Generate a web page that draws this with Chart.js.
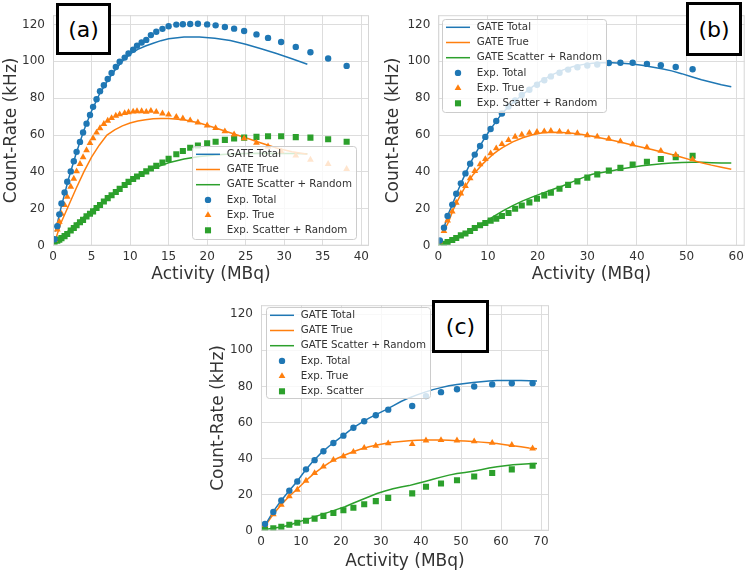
<!DOCTYPE html>
<html>
<head>
<meta charset="utf-8">
<script src="https://cdn.jsdelivr.net/npm/chart.js@4.4.0/dist/chart.umd.min.js"></script>
<style>
  body { margin: 0; background: #fff; width: 749px; height: 572px; position: relative; overflow: hidden; }
  canvas { position: absolute; }
  .tag {
    position: absolute; background: #fff; border: 3px solid #000; box-sizing: border-box;
    font: 22px "DejaVu Sans", sans-serif; color: #000;
    display: flex; align-items: center; justify-content: center;
  }
</style>
</head>
<body>
<canvas id="chartA" width="375" height="290" style="left:0;top:0"></canvas>
<canvas id="chartB" width="374" height="290" style="left:375px;top:0"></canvas>
<canvas id="chartC" width="360" height="282" style="left:200px;top:290px"></canvas>
<div class="tag" style="left:56px;top:3px;width:55px;height:52px">(a)</div>
<div class="tag" style="left:686px;top:2px;width:56px;height:54px">(b)</div>
<div class="tag" style="left:432px;top:300px;width:57px;height:53px">(c)</div>
<script>
// shared y ticks
const yTicks = [0, 20, 40, 60, 80, 100, 120];

// ---- panel (a) ----
const aXTicks = [0, 5, 10, 15, 20, 25, 30, 35, 40];
const aExpX = [0.2, 0.56, 0.82, 1.1, 1.5, 1.85, 2.3, 2.7, 3.06, 3.5, 3.9, 4.35, 4.8, 5.2, 5.65, 6.1, 6.6, 7.1, 7.6, 8.15, 8.65, 9.3, 9.8, 10.4, 10.9, 11.5, 12.1, 12.7, 13.4, 14.2, 15, 16, 16.85, 17.8, 18.8, 20, 21.1, 22.3, 23.5, 24.8, 26.4, 27.9, 29.6, 31.5, 33.4, 35.7, 38.1];
const aExpTotal = [3.5, 10.6, 17, 22.9, 28.9, 34.7, 40.3, 45.8, 50.9, 56.3, 61.4, 66.2, 70.9, 75.3, 79.4, 83.8, 87, 90.4, 93.7, 96.9, 99.8, 102, 104.2, 106.3, 108.5, 110.2, 111.6, 114.2, 116, 117.6, 119, 119.9, 120.1, 120.2, 120.4, 120, 119.5, 118.6, 117.7, 116.4, 114.6, 112.7, 110.5, 107.8, 104.9, 101.5, 97.5];
const aExpTrue = [3, 8.8, 13, 17.3, 22, 26.5, 32, 36.3, 40.3, 44.3, 48, 51.8, 55.6, 58.3, 61.3, 63.7, 66, 67.8, 69.2, 70.5, 71.2, 71.9, 72.4, 72.7, 72.9, 72.9, 72.6, 73.1, 72.6, 71.7, 71.1, 69.9, 69, 68, 66.8, 65.2, 63.8, 62, 60.3, 58.2, 55.8, 53.8, 51.2, 48.9, 46.6, 44.3, 41.6];
const aExpScatter = [2.2, 2.7, 3.3, 4.1, 5.2, 6.3, 8.2, 9.6, 11.1, 12.7, 14, 15.9, 17.3, 18.6, 20.4, 22.1, 24, 25.8, 27.4, 29.1, 30.8, 32.9, 34.6, 36.2, 37.5, 38.9, 40.3, 41.9, 43.3, 45.1, 47.1, 49.6, 51.4, 53.1, 54.3, 55.5, 56.4, 57.4, 58.1, 58.6, 59, 59.4, 59.4, 58.9, 58.6, 57.7, 56.4];
const aGateX = [0.3, 1, 2, 3, 4, 5, 6, 7, 8, 9, 10, 11, 12, 13, 14, 15, 17, 19, 21, 23, 25, 27, 29, 31, 33];
const aGateTotal = [7.6, 20, 36, 50, 62.5, 73, 82, 89, 95, 100, 104, 106.5, 108.3, 109.8, 111.2, 112.2, 113.2, 113.2, 112.5, 111.3, 109.2, 106.8, 104.2, 101.4, 98.4];
const aGateTrue = [3, 12, 21.5, 31, 40, 48, 54.5, 60, 62.8, 65, 66.5, 67.6, 68.3, 68.8, 69, 69, 68.3, 66.5, 64, 61.3, 58.5, 55.7, 53, 51, 49.6];
const aGateScatter = [1.3, 4.5, 8, 12, 15.5, 19, 22.5, 25.8, 29, 32, 35, 37.5, 40, 42, 43.5, 45, 47, 48.4, 49.2, 49.7, 50, 50.1, 50, 50, 49.8];

// ---- panel (b) ----
const bXTicks = [0, 10, 20, 30, 40, 50, 60];
const bExpX = [0.3, 1.14, 1.87, 2.81, 3.61, 4.54, 5.47, 6.41, 7.34, 8.41, 9.47, 10.54, 11.67, 12.81, 14.14, 15.47, 16.81, 18.34, 19.87, 21.34, 22.67, 24.41, 26.14, 28.01, 30.01, 32.01, 34.34, 36.67, 39.14, 42.01, 44.81, 47.81, 51.21];
const bExpTotal = [2.8, 9.8, 16.1, 22.3, 28.2, 33.8, 39.2, 44.5, 49.4, 54.1, 59, 63.3, 67.6, 71.7, 75.5, 78.8, 81.7, 84.6, 87.3, 89.7, 91.8, 93.8, 95.5, 96.8, 97.7, 98.3, 99.1, 99.2, 99.2, 98.6, 97.9, 96.9, 95.7];
const bExpTrue = [2.3, 8, 13.6, 18.5, 23.3, 28.3, 32.4, 36.5, 40.5, 44.1, 47, 50.1, 52.8, 55.1, 57.3, 59.1, 60.2, 61.2, 61.7, 62, 62.2, 61.9, 61.5, 61, 59.9, 59.2, 58, 56.6, 55, 53.3, 51.4, 49.3, 46.8];
const bExpScatter = [1.8, 1.1, 2, 3.1, 4.2, 5.6, 6.6, 8, 9.6, 11.1, 12.3, 13.6, 14.7, 16.1, 17.7, 20, 21.8, 23.5, 25.5, 27.3, 28.7, 30.9, 33, 34.9, 36.9, 38.7, 40.7, 42.2, 44, 45.5, 47, 48, 48.8];
const bGateX = [1, 2, 3, 4, 5, 6, 7, 8, 9, 10, 11, 12, 13, 15, 17, 19, 21, 23, 25, 27, 29, 31, 33, 35, 37, 39, 41, 43, 45, 47, 49, 51, 53, 55, 57, 59];
const bGateTotal = [8.5, 17, 23.5, 30.2, 36.4, 42.2, 47.6, 52.4, 56.9, 61.1, 65, 68.8, 72.3, 77.5, 82, 86.3, 89.8, 92.8, 95.2, 97, 98.2, 98.9, 99.2, 99.2, 99, 98.5, 97.8, 96.9, 95.9, 94.8, 93.3, 91.6, 90, 88.6, 87.3, 86.2];
const bGateTrue = [7.5, 12.5, 19.5, 25, 30, 34.5, 38.5, 41.5, 44.5, 47, 49.5, 51.5, 53.3, 56.3, 58.5, 60.2, 61.2, 61.5, 61.4, 61, 60.3, 59.3, 58.3, 57.2, 56, 54.6, 53.4, 52.2, 50.8, 49.5, 48, 46.4, 45, 43.7, 42.6, 41.5];
const bGateScatter = [1.2, 2.5, 3.5, 4.8, 6.3, 7.8, 9.3, 10.8, 12.3, 13.9, 15.6, 17.3, 18.9, 21.7, 24.3, 26.5, 28.5, 30.5, 32.4, 34.6, 36.8, 38.7, 39.7, 40.7, 41.7, 42.5, 43.3, 43.9, 44.4, 44.8, 45.1, 45.3, 45.2, 45, 44.9, 44.9];

// ---- panel (c) ----
const cXTicks = [0, 10, 20, 30, 40, 50, 60, 70];
const cExpX = [1, 3.08, 5.08, 7.08, 9.08, 11.25, 13.4, 15.6, 18.1, 20.6, 23.1, 25.8, 28.7, 31.8, 37.8, 41.25, 45, 49, 53.3, 57.8, 62.7, 67.9];
const cExpTotal = [3.7, 10.4, 16.7, 22.2, 27.3, 34, 39.1, 44, 48.6, 52.7, 57.1, 60.7, 64, 67.1, 69.1, 74.6, 76.8, 78.4, 79.9, 81.1, 81.7, 81.8];
const cExpTrue = [3.1, 9.1, 14.4, 19.1, 22.7, 27.7, 31.9, 35.5, 39.3, 41.3, 43.7, 45.9, 47.1, 48.4, 48, 50, 50.2, 50, 49.5, 48.7, 47.5, 45.6];
const cExpScatter = [0.7, 1.3, 2.2, 3.3, 4.4, 5.5, 6.7, 8.2, 9.8, 11.3, 12.7, 14.7, 16.4, 18.2, 20.7, 24.4, 26.2, 28, 30, 32, 34, 36];
const cGateX = [1, 3, 5, 7, 9, 11, 13, 15, 17, 19, 21, 23, 25, 27, 29, 31, 33, 35, 37, 39, 41, 43, 45, 47, 49, 51, 53, 55, 57, 59, 61, 63, 65, 67, 69];
const cGateTotal = [3, 10.4, 16.6, 22, 27.3, 33.2, 38.5, 43, 46.8, 50.2, 53.5, 57, 59.8, 62.4, 64.6, 66.8, 69.2, 71.6, 73.6, 75.3, 76.8, 78.2, 79.3, 80.3, 81, 81.6, 82.1, 82.6, 83, 83.2, 83.3, 83.3, 83.2, 83.1, 83];
const cGateTrue = [2.5, 9, 14.3, 19, 23, 27.3, 31.2, 34.6, 37.6, 40, 42, 43.8, 45.3, 46.5, 47.5, 48.3, 49, 49.5, 49.8, 50.1, 50.3, 50.3, 50.3, 50.1, 49.9, 49.7, 49.4, 49.1, 48.7, 48.3, 47.7, 47.1, 46.5, 45.9, 45.4];
const cGateScatter = [0.7, 1.4, 2.1, 3, 4.5, 6, 7.4, 8.9, 10.3, 11.8, 13.3, 15.2, 17, 18.8, 20.6, 22, 23.2, 24.2, 25, 26.2, 27.3, 28.5, 29.7, 30.8, 31.7, 32.3, 33, 33.8, 34.7, 35.4, 36, 36.5, 36.9, 37.1, 37.3];

const BLUE = '#1f77b4', ORANGE = '#ff7f0e', GREEN = '#2ca02c';
const FONT = 'DejaVu Sans';
const TEXT = '#333333';

function xy(xs, ys) {
    return xs.map((x, i) => ({ x, y: ys[i] }));
}

function lineSet(label, xs, ys, color) {
    return { label, data: xy(xs, ys), showLine: true, borderColor: color, borderWidth: 1.5,
             pointRadius: 0, order: 2, legendKind: 'line' };
}

function markSet(label, xs, ys, color, style, radius) {
    return { label, data: xy(xs, ys), showLine: false, pointStyle: style, pointRadius: radius,
             backgroundColor: color, borderColor: color, borderWidth: 0, order: 1, legendKind: 'mark' };
}

// frame round the plot + legend box drawn over the data, like matplotlib does
const floatLegend = {
    id: 'floatLegend',
    afterDatasetsDraw(chart, args, opts) {
        const { ctx, chartArea: a } = chart;
        ctx.save();
        ctx.strokeStyle = '#d6d6d6';
        ctx.lineWidth = 1;
        ctx.strokeRect(a.left + 0.5, a.top + 0.5, a.right - a.left - 1, a.bottom - a.top - 1);

        const b = opts.box;
        ctx.beginPath();
        ctx.roundRect(b.x + 0.5, b.y + 0.5, b.w, b.h, 3);
        ctx.fillStyle = 'rgba(255,255,255,0.8)';
        ctx.fill();
        ctx.strokeStyle = '#cccccc';
        ctx.stroke();

        ctx.font = '10.3px "' + FONT + '"';
        ctx.textBaseline = 'middle';
        ctx.textAlign = 'left';
        chart.data.datasets.forEach((ds, i) => {
            const cy = b.y + 8.3 + i * 15.2;
            const x0 = b.x + 4, x1 = b.x + 28;
            if (ds.legendKind === 'line') {
                ctx.beginPath();
                ctx.moveTo(x0, cy);
                ctx.lineTo(x1, cy);
                ctx.strokeStyle = ds.borderColor;
                ctx.lineWidth = 1.5;
                ctx.stroke();
            } else {
                ctx.fillStyle = ds.backgroundColor;
                Chart.helpers.drawPoint(ctx, { pointStyle: ds.pointStyle, radius: ds.pointRadius, rotation: 0, borderWidth: 0 }, (x0 + x1) / 2, cy);
            }
            ctx.fillStyle = TEXT;
            ctx.fillText(ds.label, b.x + 34.7, cy);
        });
        ctx.restore();
    }
};

function renderPanel(canvasId, p) {
    const ctx = document.getElementById(canvasId).getContext('2d');
    const tickFont = { family: FONT, size: 12 };
    const titleFont = { family: FONT, size: 17 };
    return new Chart(ctx, {
        type: 'scatter',
        data: { datasets: p.datasets },
        plugins: [floatLegend],
        options: {
            responsive: false,
            animation: false,
            events: [],
            layout: { padding: p.padding },
            plugins: {
                legend: { display: false },
                tooltip: { enabled: false },
                floatLegend: { box: p.legendBox }
            },
            scales: {
                x: {
                    type: 'linear', min: 0, max: p.xMax,
                    afterBuildTicks: s => { s.ticks = p.xTicks.map(v => ({ value: v })); },
                    afterFit: s => { s.height = p.xH; },
                    ticks: { padding: 4, color: TEXT, font: tickFont },
                    grid: { color: '#dddddd', drawTicks: false },
                    border: { display: false },
                    title: { display: true, text: 'Activity (MBq)', color: TEXT, font: titleFont,
                             padding: { top: 0, bottom: p.xTitlePad } }
                },
                y: {
                    type: 'linear', min: 0, max: 125,
                    afterBuildTicks: s => { s.ticks = yTicks.map(v => ({ value: v })); },
                    afterFit: s => { s.width = p.yW; },
                    ticks: { padding: 8, color: TEXT, font: tickFont },
                    grid: { color: '#dddddd', drawTicks: false },
                    border: { display: false },
                    title: { display: true, text: 'Count-Rate (kHz)', color: TEXT, font: titleFont,
                             padding: { top: p.yTitlePad, bottom: 0 } }
                }
            }
        }
    });
}

renderPanel('chartA', {
    datasets: [
        lineSet('GATE Total', aGateX, aGateTotal, BLUE),
        lineSet('GATE True', aGateX, aGateTrue, ORANGE),
        lineSet('GATE Scatter + Random', aGateX, aGateScatter, GREEN),
        markSet('Exp. Total', aExpX, aExpTotal, BLUE, 'circle', 3.2),
        markSet('Exp. True', aExpX, aExpTrue, ORANGE, 'triangle', 3.9),
        markSet('Exp. Scatter + Random', aExpX, aExpScatter, GREEN, 'rect', 4.3)
    ],
    xMax: 41, xTicks: aXTicks,
    padding: { left: 0, top: 15, right: 6, bottom: 0 },
    yW: 53, xH: 44.3, yTitlePad: 1.5, xTitlePad: 4.8,
    legendBox: { x: 192, y: 146, w: 164, h: 93 }
});

renderPanel('chartB', {
    datasets: [
        lineSet('GATE Total', bGateX, bGateTotal, BLUE),
        lineSet('GATE True', bGateX, bGateTrue, ORANGE),
        lineSet('GATE Scatter + Random', bGateX, bGateScatter, GREEN),
        markSet('Exp. Total', bExpX, bExpTotal, BLUE, 'circle', 3.2),
        markSet('Exp. True', bExpX, bExpTrue, ORANGE, 'triangle', 3.9),
        markSet('Exp. Scatter + Random', bExpX, bExpScatter, GREEN, 'rect', 4.3)
    ],
    xMax: 61.7, xTicks: bXTicks,
    padding: { left: 0, top: 15, right: 2.3, bottom: 0 },
    yW: 63.3, xH: 44.3, yTitlePad: 8.8, xTitlePad: 4.8,
    legendBox: { x: 67, y: 19, w: 164, h: 93 }
});

renderPanel('chartC', {
    datasets: [
        lineSet('GATE Total', cGateX, cGateTotal, BLUE),
        lineSet('GATE True', cGateX, cGateTrue, ORANGE),
        lineSet('GATE Scatter + Random', cGateX, cGateScatter, GREEN),
        markSet('Exp. Total', cExpX, cExpTotal, BLUE, 'circle', 3.2),
        markSet('Exp. True', cExpX, cExpTrue, ORANGE, 'triangle', 3.9),
        markSet('Exp. Scatter', cExpX, cExpScatter, GREEN, 'rect', 4.3)
    ],
    xMax: 72, xTicks: cXTicks,
    padding: { left: 0, top: 11.7, right: 11, bottom: 0 },
    yW: 61, xH: 41.3, yTitlePad: 8.1, xTitlePad: 0.2,
    legendBox: { x: 66, y: 17, w: 164, h: 91 }
});
</script>
</body>
</html>
